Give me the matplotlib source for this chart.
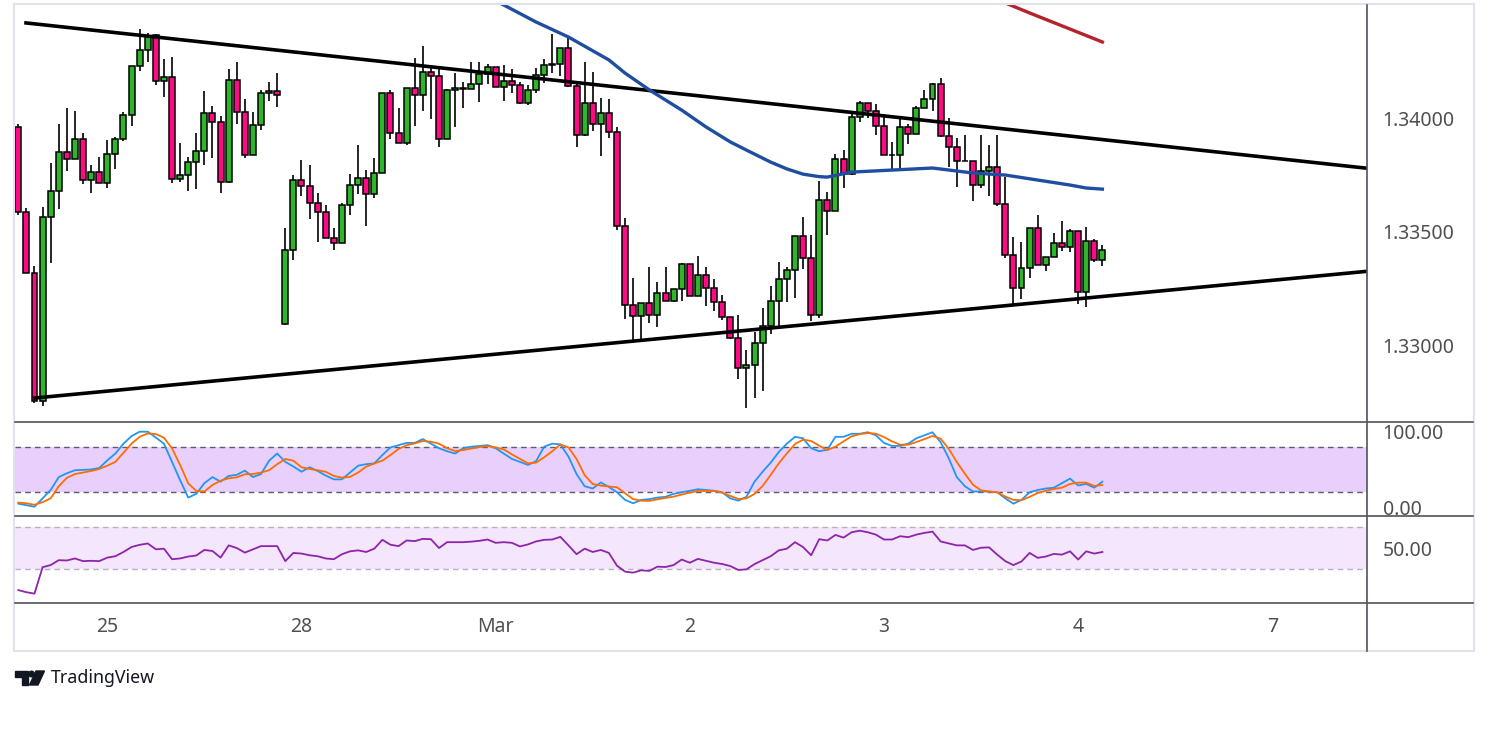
import matplotlib
matplotlib.use('Agg')
import matplotlib.pyplot as plt
from matplotlib.patches import Rectangle, Polygon, Circle
from matplotlib.lines import Line2D
import numpy as np

plt.rcParams['font.family'] = ['Noto Sans', 'DejaVu Sans']

# hourly candles
opens = [1.33961, 1.33586, 1.33317, 1.32754, 1.33564, 1.33679, 1.33850, 1.33820, 1.33908, 1.33727,
         1.33762, 1.33714, 1.33842, 1.33908, 1.34013, 1.34229, 1.34300, 1.34366, 1.34163, 1.34181,
         1.33731, 1.33749, 1.33806, 1.33855, 1.34022, 1.33983, 1.33718, 1.34168, 1.34027, 1.33837,
         1.33969, 1.34110, 1.34119, 1.33093, 1.33419, 1.33727, 1.33701, 1.33626, 1.33586, 1.33472,
         1.33450, 1.33617, 1.33705, 1.33736, 1.33665, 1.33758, 1.34110, 1.33934, 1.33890, 1.34132,
         1.34102, 1.34203, 1.34185, 1.33908, 1.34124, 1.34128, 1.34128, 1.34150, 1.34194, 1.34225,
         1.34137, 1.34163, 1.34146, 1.34066, 1.34124, 1.34190, 1.34234, 1.34238, 1.34309, 1.34141,
         1.33925, 1.34066, 1.33974, 1.34022, 1.33939, 1.33525, 1.33177, 1.33128, 1.33185, 1.33132,
         1.33229, 1.33194, 1.33247, 1.33357, 1.33216, 1.33309, 1.33251, 1.33190, 1.33124, 1.33031,
         1.32899, 1.32912, 1.33009, 1.33084, 1.33194, 1.33291, 1.33331, 1.33480, 1.33383, 1.33132,
         1.33639, 1.33591, 1.33820, 1.33753, 1.34005, 1.34066, 1.34031, 1.33965, 1.33837, 1.33837,
         1.33961, 1.33930, 1.34044, 1.34084, 1.34150, 1.33921, 1.33873, 1.33811, 1.33811, 1.33705,
         1.33767, 1.33784, 1.33621, 1.33397, 1.33251, 1.33339, 1.33516, 1.33353, 1.33388, 1.33450,
         1.33432, 1.33502, 1.33234, 1.33458, 1.33375]
highs = [1.33974, 1.33604, 1.33348, 1.33608, 1.33802, 1.33974, 1.34044, 1.34031, 1.33934, 1.33793,
         1.33828, 1.33903, 1.33917, 1.34027, 1.34229, 1.34392, 1.34375, 1.34370, 1.34260, 1.34269,
         1.33890, 1.33828, 1.33934, 1.34119, 1.34053, 1.34009, 1.34216, 1.34247, 1.34084, 1.34027,
         1.34124, 1.34159, 1.34198, 1.33516, 1.33749, 1.33815, 1.33793, 1.33670, 1.33617, 1.33516,
         1.33626, 1.33753, 1.33881, 1.33771, 1.33824, 1.34110, 1.34124, 1.34044, 1.34132, 1.34264,
         1.34317, 1.34225, 1.34220, 1.34128, 1.34198, 1.34159, 1.34247, 1.34247, 1.34238, 1.34225,
         1.34234, 1.34216, 1.34159, 1.34146, 1.34220, 1.34260, 1.34370, 1.34309, 1.34361, 1.34159,
         1.34247, 1.34203, 1.34088, 1.34084, 1.33961, 1.33560, 1.33295, 1.33185, 1.33344, 1.33278,
         1.33344, 1.33247, 1.33361, 1.33357, 1.33392, 1.33344, 1.33291, 1.33221, 1.33124, 1.33132,
         1.32978, 1.33058, 1.33163, 1.33260, 1.33366, 1.33344, 1.33480, 1.33564, 1.33485, 1.33723,
         1.33674, 1.33842, 1.33859, 1.34022, 1.34075, 1.34066, 1.34062, 1.34018, 1.33895, 1.33996,
         1.33974, 1.34053, 1.34124, 1.34154, 1.34176, 1.34000, 1.33912, 1.33925, 1.33811, 1.33925,
         1.33881, 1.33925, 1.33740, 1.33476, 1.33454, 1.33516, 1.33573, 1.33388, 1.33494, 1.33547,
         1.33511, 1.33502, 1.33520, 1.33467, 1.33441]
lows = [1.33573, 1.33317, 1.32745, 1.32732, 1.33361, 1.33599, 1.33767, 1.33820, 1.33709, 1.33670,
        1.33714, 1.33692, 1.33776, 1.33899, 1.33965, 1.34207, 1.34247, 1.34146, 1.34093, 1.33714,
        1.33718, 1.33679, 1.33687, 1.33793, 1.33824, 1.33670, 1.33714, 1.33974, 1.33824, 1.33837,
        1.33947, 1.34075, 1.34049, 1.33088, 1.33375, 1.33657, 1.33555, 1.33454, 1.33472, 1.33419,
        1.33450, 1.33573, 1.33665, 1.33525, 1.33648, 1.33758, 1.33908, 1.33890, 1.33881, 1.33965,
        1.34031, 1.33996, 1.33873, 1.33908, 1.33961, 1.34044, 1.34128, 1.34071, 1.34150, 1.34137,
        1.34075, 1.34110, 1.34062, 1.34058, 1.34110, 1.34154, 1.34198, 1.34185, 1.34137, 1.33873,
        1.33921, 1.33943, 1.33833, 1.33912, 1.33507, 1.33115, 1.33022, 1.33027, 1.33097, 1.33080,
        1.33194, 1.33190, 1.33194, 1.33216, 1.33216, 1.33172, 1.33150, 1.33110, 1.33027, 1.32851,
        1.32723, 1.32767, 1.32798, 1.33049, 1.33080, 1.33190, 1.33207, 1.33335, 1.33106, 1.33119,
        1.33485, 1.33591, 1.33692, 1.33749, 1.33983, 1.34000, 1.33925, 1.33837, 1.33776, 1.33776,
        1.33886, 1.33930, 1.34044, 1.34031, 1.33917, 1.33784, 1.33696, 1.33811, 1.33635, 1.33692,
        1.33657, 1.33613, 1.33383, 1.33181, 1.33203, 1.33295, 1.33353, 1.33326, 1.33388, 1.33414,
        1.33410, 1.33181, 1.33168, 1.33366, 1.33348]
closes = [1.33586, 1.33317, 1.32754, 1.33564, 1.33679, 1.33850, 1.33820, 1.33908, 1.33727, 1.33762,
          1.33714, 1.33842, 1.33908, 1.34013, 1.34229, 1.34300, 1.34361, 1.34163, 1.34181, 1.33731,
          1.33749, 1.33806, 1.33855, 1.34022, 1.33983, 1.33718, 1.34168, 1.34027, 1.33837, 1.33969,
          1.34110, 1.34119, 1.34102, 1.33419, 1.33727, 1.33701, 1.33626, 1.33586, 1.33472, 1.33450,
          1.33617, 1.33705, 1.33736, 1.33665, 1.33758, 1.34110, 1.33934, 1.33890, 1.34132, 1.34102,
          1.34203, 1.34185, 1.33908, 1.34124, 1.34132, 1.34132, 1.34150, 1.34194, 1.34225, 1.34137,
          1.34163, 1.34146, 1.34066, 1.34124, 1.34190, 1.34234, 1.34238, 1.34309, 1.34141, 1.33925,
          1.34066, 1.33974, 1.34022, 1.33939, 1.33525, 1.33177, 1.33128, 1.33185, 1.33132, 1.33229,
          1.33194, 1.33247, 1.33357, 1.33216, 1.33309, 1.33251, 1.33190, 1.33124, 1.33031, 1.32899,
          1.32912, 1.33009, 1.33084, 1.33194, 1.33291, 1.33331, 1.33480, 1.33383, 1.33132, 1.33639,
          1.33591, 1.33820, 1.33753, 1.34005, 1.34066, 1.34031, 1.33965, 1.33837, 1.33837, 1.33961,
          1.33930, 1.34044, 1.34084, 1.34150, 1.33921, 1.33873, 1.33811, 1.33811, 1.33705, 1.33767,
          1.33784, 1.33621, 1.33397, 1.33251, 1.33339, 1.33516, 1.33353, 1.33388, 1.33450, 1.33432,
          1.33502, 1.33234, 1.33458, 1.33375, 1.33419]

# moving averages (bar index, price)
ma_blue_idx = [56, 60, 64, 68, 73, 75, 78, 82, 85, 88, 90, 93, 95, 97, 99, 100, 103, 108, 113, 118, 122, 126, 130, 132, 134]
ma_blue = [1.34568, 1.34498, 1.34423, 1.34357, 1.34256, 1.34198, 1.34124, 1.34035, 1.33961, 1.33895,
           1.33859, 1.33806, 1.33776, 1.33753, 1.33742, 1.33740, 1.33762, 1.33771, 1.33780, 1.33758,
           1.33749, 1.33727, 1.33705, 1.33692, 1.33687]
ma_red_idx = [119, 122, 125, 130, 134]
ma_red = [1.34546, 1.34507, 1.34463, 1.34392, 1.34335]

# triangle trendlines
upper_idx = [0.95, 166.7]
upper_px = [1.34419, 1.33779]
lower_idx = [2.06, 166.7]
lower_px = [1.32767, 1.33325]

stoch_k = [5, 3, 1, 12, 23, 40, 45, 49, 49.5, 50,
           52, 62, 71, 84, 94, 99.7, 99.7, 92, 84, 60,
           36, 13, 18, 32, 40, 34, 41.5, 43, 48.5, 40,
           44, 61.6, 71, 60, 54, 47, 53, 48, 42, 37,
           37, 46, 55, 57, 58, 69, 79, 82, 85, 85,
           90, 84, 78, 74, 71, 78, 80, 81, 82, 78,
           71, 64, 60, 56, 61, 80, 84, 83, 67, 44,
           28, 25, 33, 27, 20, 10, 5.5, 10, 11, 13,
           14, 18, 20, 22, 24, 23, 22, 20, 12, 9,
           14, 34, 47, 59, 73, 84, 93, 91, 78, 74,
           76, 93, 93, 97, 97, 99, 95, 85, 81, 81,
           84, 91, 95, 99, 86, 65, 40, 28, 21, 21,
           21, 20, 12, 5, 10, 20, 23, 25, 26, 32,
           38, 29, 31, 26, 34]
stoch_d = [6.5, 5.5, 3.5, 7, 12, 28, 39, 44, 46, 48,
           50.7, 55, 60, 72, 84, 93, 97.5, 96.6, 91.8, 77.8,
           55.9, 31.8, 21.8, 21, 29.6, 35.3, 38.4, 39.7, 43.7, 44,
           46, 49, 57, 63.8, 61.6, 52.9, 50.7, 49, 47, 41.5,
           39.3, 40.2, 46, 53.7, 58, 61.6, 69, 77, 82, 84.4,
           87.5, 86.5, 84, 78, 74.3, 75.6, 77.5, 79.5, 80.9, 79,
           76.5, 70, 64, 58.1, 59, 66, 74, 83, 79.1, 63.8,
           42.6, 30.9, 28.8, 27.7, 26.6, 18.7, 11, 9, 8.6, 10.8,
           12.5, 14.3, 17, 19.5, 21.8, 21.8, 21.8, 19.6, 15.2, 11.2,
           12.1, 17.8, 28.3, 42.8, 58.1, 71.2, 83.5, 89.2, 87.5, 81.3,
           75.6, 80, 87, 93.6, 96.5, 98, 97.1, 92.7, 87, 82.6,
           82.6, 86.1, 90, 94.1, 90.6, 77.4, 59.9, 44.5, 30, 22.6,
           21, 20, 14.3, 10, 9.5, 14, 19, 22, 24.4, 26.1,
           30.9, 32.7, 32.7, 28.3, 29.6]
rsi = [10.5, 8.5, 7.2, 32, 34, 38.6, 38.3, 40.2, 37.7, 38,
       37.7, 41, 42.3, 46.3, 51, 53, 54.3, 48.8, 49.4, 39.5,
       40.2, 42, 43, 48.2, 47.2, 41, 52.5, 50, 45.7, 48.8,
       51.8, 51.8, 51.8, 37.7, 45.4, 44.8, 43.2, 42.3, 40.2, 39.5,
       44.2, 46.9, 47.8, 46.3, 49.4, 57.7, 53.1, 51.8, 57.1, 56.5,
       58.6, 58.3, 50, 55.5, 55.5, 55.5, 56, 56.8, 58, 54.9,
       55.5, 54.9, 51.5, 53.4, 56.2, 57.7, 58, 60.5, 52.5, 44.2,
       49.4, 46.3, 48.2, 45.4, 33.4, 27.8, 26.9, 29.1, 28.5, 32.5,
       32.2, 34, 39.2, 36.2, 39.8, 38, 36.2, 35, 33.1, 29.4,
       30, 34.9, 38.6, 42.3, 47.8, 49.4, 55.5, 50.9, 43.2, 58.3,
       57.1, 62.3, 59.8, 64.8, 66.3, 64.8, 62.6, 58, 58, 61.1,
       60.2, 62.6, 64.2, 65.4, 56.2, 54.3, 52.5, 52.5, 48.2, 50.3,
       50.6, 43.8, 37.7, 34, 37.4, 45.4, 40.8, 42, 44.5, 43.8,
       46.9, 39.2, 46.9, 44.8, 46.3]

day_ticks = [11, 35, 59, 83, 107, 131, 155]
day_labels = ['25', '28', 'Mar', '2', '3', '4', '7']
price_ticks = [1.33, 1.335, 1.34]

W, H = 1489, 740
fig = plt.figure(figsize=(W / 100, H / 100), dpi=100)
fig.patch.set_facecolor('white')


def px_axes(x0, y0, x1, y1):
    return fig.add_axes([x0 / W, 1 - y1 / H, (x1 - x0) / W, (y1 - y0) / H])


ax = px_axes(15, 5, 1366.7, 422.3)
ax_st = px_axes(15, 422.3, 1366.7, 516.3)
ax_rsi = px_axes(15, 516.3, 1366.7, 603.3)

txt_col = '#4f4f4f'
for a in (ax, ax_st, ax_rsi):
    a.set_xlim(-0.41, 166.67)
    for s in a.spines.values():
        s.set_visible(False)
    a.yaxis.tick_right()
    a.tick_params(axis='y', length=0, pad=11.5, labelsize=14, labelcolor=txt_col)
    a.set_xticks([])

# candles
idx = np.arange(len(opens))
o = np.array(opens)
h = np.array(highs)
l = np.array(lows)
c = np.array(closes)
colors = np.where(c >= o, '#2fb52a', '#ff0a84')
ax.vlines(idx, l, h, color='black', lw=1.2, zorder=2)
ax.bar(idx, np.maximum(np.abs(c - o), 2e-6), bottom=np.minimum(o, c), width=0.74,
       color=colors, edgecolor='black', linewidth=1.1, zorder=3)

ax.plot(upper_idx, upper_px, color='black', lw=2.6, zorder=4)
ax.plot(lower_idx, lower_px, color='black', lw=2.6, zorder=4)
ax.plot(ma_blue_idx, ma_blue, color='#1f4ea1', lw=2.4, zorder=5)
ax.plot(ma_red_idx, ma_red, color='#b5222b', lw=2.4, zorder=5)

ax.set_ylim(1.32660, 1.34498)
ax.set_yticks(price_ticks, ['%.5f' % p for p in price_ticks])

# stochastic
ax_st.set_ylim(-11.6, 112.1)
ax_st.axhspan(20, 80, color='#e9d0fc', lw=0)
for lvl in (20, 80):
    ax_st.axhline(lvl, color='#5d5a6b', lw=1, ls=(0, (4, 3)))
ax_st.plot(idx, stoch_k, color='#2196f3', lw=1.3, zorder=3)
ax_st.plot(idx, stoch_d, color='#ff6d00', lw=1.3, zorder=3)
ax_st.set_yticks([0, 100], ['0.00', '100.00'])

# rsi
ax_rsi.set_ylim(-1.9, 79.8)
ax_rsi.axhspan(30, 70, color='#f3e6fd', lw=0)
for lvl in (30, 70):
    ax_rsi.axhline(lvl, color='#b9afc2', lw=1, ls=(0, (4, 3)))
ax_rsi.plot(idx, rsi, color='#8e24aa', lw=1.3, zorder=3)
ax_rsi.set_yticks([50], ['50.00'])
ax_rsi.set_xticks(day_ticks, day_labels)
ax_rsi.tick_params(axis='x', length=0, pad=10, labelsize=14, labelcolor=txt_col)

# frame, pane separators and logo in pixel space
ov = fig.add_axes([0, 0, 1, 1])
ov.set_xlim(0, W)
ov.set_ylim(H, 0)
ov.axis('off')
ov.add_patch(Rectangle((14, 4), 1460, 647, fill=False, ec='#e0e3eb', lw=1.5))
sep = '#50535e'
for yy in (422.3, 516.3, 603.3):
    ov.add_line(Line2D([15, 1473], [yy, yy], color=sep, lw=1.2))
ov.add_line(Line2D([1366.7, 1366.7], [5, 651], color=sep, lw=1.2))

ov.add_patch(Polygon([(15, 671), (28, 671), (28, 685), (21.5, 685), (21.5, 677), (15, 677)],
                     closed=True, color='#131722'))
ov.add_patch(Circle((31.5, 674), 2.8, color='#131722'))
ov.add_patch(Polygon([(36, 671), (44.5, 671), (38, 685), (29.5, 685)], closed=True, color='#131722'))
ov.text(51, 678, 'TradingView', fontsize=12.8, color='#131722', va='center', ha='left')

fig.savefig('out.png', dpi=100)
